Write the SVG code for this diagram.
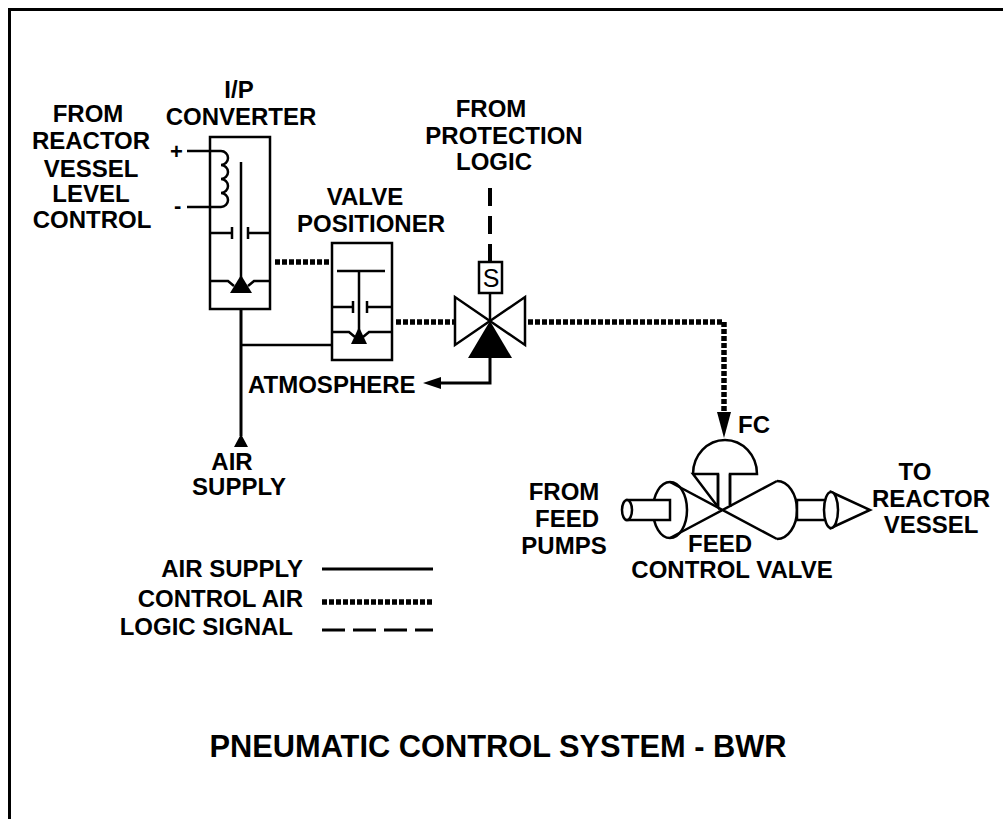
<svg xmlns="http://www.w3.org/2000/svg" width="1003" height="819" viewBox="0 0 1003 819">
<style>
text{font-family:"Liberation Sans",Arial,sans-serif;font-weight:bold;font-size:24px;fill:#000}
.m{text-anchor:middle}
.e{text-anchor:end}
.sm{font-size:22px}
.s{font-weight:normal;font-size:25px}
.title{font-size:30.8px}
.ln{fill:none;stroke:#000;stroke-width:2.5}
.box{fill:#fff;stroke:#000;stroke-width:2.5}
.air{fill:none;stroke:#000;stroke-width:3}
.ctl{fill:none;stroke:#000;stroke-width:5.5;stroke-dasharray:5 2}
.sig{fill:none;stroke:#000;stroke-width:4;stroke-dasharray:18 10}
.fill{fill:#000;stroke:none}
</style>
<rect width="1003" height="819" fill="#fff"/>
<path d="M9.5 819 V9.5 H1003" fill="none" stroke="#000" stroke-width="3"/>

<g id="connectors">
  <path class="air" d="M241 309 V436"/>
  <path class="ln" d="M241 345 H332" stroke-width="2"/>
  <path class="ctl" d="M275 262 H332"/>
  <path class="ctl" d="M396 322 H455"/>
  <path class="ctl" d="M528 322 H724 V413"/>
  <polygon class="fill" points="717,412 731,412 724,438"/>
  <path class="sig" d="M490 262 V187"/>
  <path class="air" d="M490 358 V383 H436"/>
  <polygon class="fill" points="423,383 441,377 441,389"/>
</g>

<g id="ip-converter">
  <rect class="box" x="210" y="137" width="60" height="172"/>
  <path class="ln" d="M187 151 H221 a7 7 0 0 1 0 14 a7 7 0 0 1 0 14 a7 7 0 0 1 0 14 a7 7 0 0 1 0 14 H187" stroke-width="2"/>
  <path class="ln" d="M241 162 V282"/>
  <path class="ln" d="M210 233 H232 M232 227 V239 M248 227 V239 M248 233 H270"/>
  <path class="ln" d="M210 281 H228 L234 286 M270 281 H254 L248 286"/>
  <polygon class="fill" points="241,275 230,293 252,293"/>
  <text class="m" x="239" y="98">I/P</text>
  <text class="m" x="241" y="125">CONVERTER</text>
  <text class="sm" x="170" y="159">+</text>
  <text class="sm" x="174" y="213">-</text>
</g>

<g id="level-control">
  <text class="m" x="88" y="122">FROM</text>
  <text class="m" x="91" y="149">REACTOR</text>
  <text class="m" x="91" y="177">VESSEL</text>
  <text class="m" x="91" y="202">LEVEL</text>
  <text class="m" x="92" y="228">CONTROL</text>
</g>

<g id="valve-positioner">
  <rect class="box" x="332" y="243" width="60" height="117"/>
  <path class="ln" d="M337 271 H385" stroke-width="3"/>
  <path class="ln" d="M359 271 V332"/>
  <path class="ln" d="M332 307 H353 M353 301 V313 M367 301 V313 M367 307 H392"/>
  <path class="ln" d="M332 332 H349 L355 337 M392 332 H369 L363 337"/>
  <polygon class="fill" points="359,327 351,344 367,344"/>
  <text class="m" x="365" y="205">VALVE</text>
  <text class="m" x="371" y="232">POSITIONER</text>
</g>

<g id="protection-logic">
  <text class="m" x="491" y="117">FROM</text>
  <text class="m" x="504" y="144">PROTECTION</text>
  <text class="m" x="494" y="170">LOGIC</text>
</g>

<g id="solenoid-valve">
  <rect class="box" x="479" y="262" width="23" height="31"/>
  <text class="m s" x="491" y="287">S</text>
  <path class="ln" d="M490 293 V321" stroke-width="3"/>
  <path class="ln" d="M455 297 V345 L525 297 V345 Z"/>
  <polygon class="fill" points="490,321 468,358 512,358"/>
</g>

<g id="atmosphere">
  <text x="248" y="393">ATMOSPHERE</text>
</g>

<g id="air-supply">
  <polygon class="fill" points="241,434 234,447 248,447"/>
  <text class="m" x="232" y="470">AIR</text>
  <text class="m" x="239" y="495">SUPPLY</text>
</g>

<g id="feed-control-valve">
  <ellipse class="box" cx="670" cy="510" rx="17" ry="28"/>
  <rect class="box" x="627" y="500" width="43" height="20"/>
  <ellipse class="box" cx="627" cy="510" rx="5" ry="10"/>
  <path class="ln" d="M670 482 L777 539 M670 538 L777 481"/>
  <path class="ln" d="M777 481 A20 29 0 0 1 777 539"/>
  <rect class="box" x="797" y="500" width="34" height="20"/>
  <path class="box" d="M831 492 L870 510 L831 528 Z"/>
  <ellipse class="box" cx="831" cy="510" rx="7" ry="18"/>
  <path class="box" d="M693 474 A32 34 0 0 1 757 474 H730 V507 M718 507 V474 H693 Z"/>
  <path class="ln" d="M718 507 V474 M730 474 V507"/>
  <text x="738" y="433">FC</text>
  <text class="m" x="720" y="552">FEED</text>
  <text class="m" x="732" y="578">CONTROL VALVE</text>
</g>

<g id="feed-pumps">
  <text class="m" x="564" y="500">FROM</text>
  <text class="m" x="567" y="527">FEED</text>
  <text class="m" x="564" y="554">PUMPS</text>
</g>

<g id="reactor-vessel">
  <text class="m" x="915" y="480">TO</text>
  <text class="m" x="931" y="507">REACTOR</text>
  <text class="m" x="931" y="533">VESSEL</text>
</g>

<g id="legend">
  <text class="e" x="303" y="577">AIR SUPPLY</text>
  <path class="air" d="M322 569 H433"/>
  <text class="e" x="303" y="607">CONTROL AIR</text>
  <path class="ctl" d="M322 602 H433"/>
  <text class="e" x="293" y="635">LOGIC SIGNAL</text>
  <path class="air" d="M322 630 H433" stroke-dasharray="23 8"/>
</g>

<text class="m title" x="498" y="757">PNEUMATIC CONTROL SYSTEM - BWR</text>
</svg>
